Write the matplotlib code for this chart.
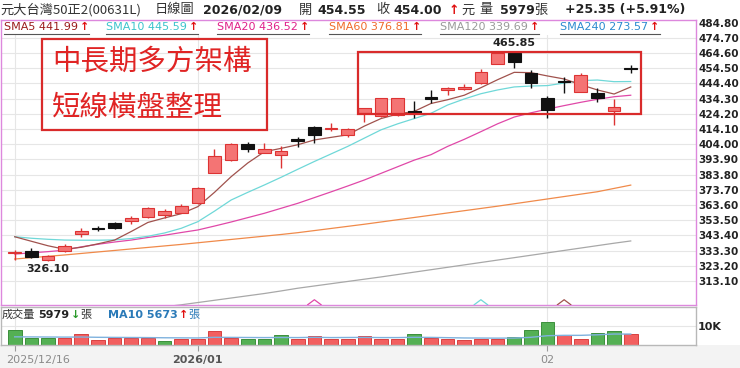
import numpy as np
import matplotlib.pyplot as plt
from matplotlib.patches import Rectangle

W, H = 740, 368
CJK = 'Noto Sans CJK TC'

# ---- data ----
dates = ['2025/12/16', '2025/12/17', '2025/12/18', '2025/12/19', '2025/12/22', '2025/12/23',
         '2025/12/24', '2025/12/26', '2025/12/29', '2025/12/30', '2025/12/31',
         '2026/01/02', '2026/01/05', '2026/01/06', '2026/01/07', '2026/01/08', '2026/01/09',
         '2026/01/12', '2026/01/13', '2026/01/14', '2026/01/15', '2026/01/16',
         '2026/01/19', '2026/01/20', '2026/01/21', '2026/01/22', '2026/01/23',
         '2026/01/26', '2026/01/27', '2026/01/28', '2026/01/29', '2026/01/30',
         '2026/02/02', '2026/02/03', '2026/02/04', '2026/02/05', '2026/02/06', '2026/02/09']

opens = [331.6, 333.0, 326.9, 333.3, 344.4, 348.3, 351.3, 353.0, 355.5, 357.0, 358.2,
         365.2, 385.0, 393.3, 403.8, 398.4, 397.0, 407.0, 415.2, 414.2, 410.1, 425.0,
         422.7, 423.4, 426.2, 434.7, 440.0, 441.0, 444.4, 457.2, 464.8, 451.0,
         434.5, 446.0, 438.8, 438.2, 425.7, 454.55]
highs = [333.8, 334.8, 330.3, 337.6, 348.1, 349.5, 352.1, 356.2, 362.5, 361.0, 364.0,
         375.5, 400.6, 404.8, 405.6, 405.0, 402.8, 409.0, 416.0, 418.2, 414.5, 428.3,
         434.8, 434.8, 432.7, 440.0, 441.8, 443.9, 453.7, 465.0, 465.85, 453.3,
         436.0, 448.8, 451.0, 441.1, 433.8, 456.6]
lows = [326.8, 328.3, 326.1, 332.5, 342.3, 346.6, 347.4, 351.0, 355.2, 355.0, 358.0,
        364.4, 384.8, 393.0, 399.0, 398.0, 388.0, 402.3, 404.6, 412.9, 408.5, 418.9,
        422.3, 423.0, 421.2, 431.6, 436.6, 440.0, 443.9, 457.0, 454.4, 441.1,
        421.2, 437.8, 438.5, 432.2, 416.7, 451.2]
closes = [332.3, 329.3, 329.4, 336.3, 346.4, 347.9, 348.2, 354.7, 361.3, 359.9, 362.9,
          375.1, 396.3, 404.3, 400.8, 400.8, 399.7, 406.5, 410.1, 414.8, 414.1, 427.8,
          434.5, 434.5, 424.8, 434.3, 441.5, 441.6, 451.7, 464.7, 458.8, 444.8,
          426.7, 445.2, 449.9, 434.5, 428.65, 454.0]

sma5 = [342.5, 339.5, 336.5, 334.2, 335.5, 337.8, 340.3, 346.0, 352.0, 355.0, 357.8,
        362.5, 372.0, 382.4, 391.5, 399.0, 401.2, 403.6, 406.8, 408.5, 410.2, 416.0,
        421.0, 424.0, 425.8, 431.0, 433.5, 436.5, 441.5, 446.8, 451.7, 451.5,
        449.3, 447.3, 443.5, 440.0, 437.3, 442.0]
sma10 = [342.5, 341.5, 340.8, 340.3, 340.2, 340.2, 340.4, 341.3, 342.8, 345.0, 348.1,
         352.5, 359.5, 366.9, 372.0, 376.9, 382.0, 387.3, 392.5, 397.5, 402.5, 408.0,
         413.5, 417.5, 421.0, 424.5, 430.0, 434.0, 437.5, 440.0, 442.0, 442.6,
         442.9, 444.6, 446.2, 446.6, 445.5, 445.6]
sma20 = [331.0, 331.8, 332.6, 333.6, 335.8, 337.5, 339.0, 340.3, 342.0, 343.5, 345.3,
         347.0, 349.6, 352.3, 355.2, 358.1, 361.4, 364.7, 368.5, 372.3, 376.2, 380.2,
         384.6, 389.0, 393.4, 397.0, 402.5, 407.2, 412.3, 417.5, 422.0, 424.8,
         427.3, 429.6, 431.8, 433.8, 435.5, 436.5]
sma60 = [327.7, 328.6, 329.5, 330.4, 331.4, 332.4, 333.4, 334.4, 335.4, 336.4, 337.4,
         338.5, 339.6, 340.7, 341.8, 342.9, 344.0, 345.2, 346.6, 348.0, 349.4, 350.8,
         352.3, 353.8, 355.3, 356.8, 358.3, 359.8, 361.3, 362.8, 364.4, 366.0,
         367.6, 369.2, 370.8, 372.4, 374.6, 376.8]
sma120 = [283.5, 284.9, 286.3, 287.7, 289.1, 290.5, 291.9, 293.3, 294.7, 296.0, 297.3,
          298.8, 300.3, 301.8, 303.3, 304.8, 306.5, 308.3, 309.8, 311.3, 312.8, 314.3,
          315.8, 317.4, 319.0, 320.6, 322.2, 323.8, 325.4, 327.0, 328.6, 330.2,
          331.8, 333.4, 335.0, 336.6, 338.2, 339.7]

volumes = [7750, 3580, 3580, 3580, 5600, 2400, 3470, 3470, 3470, 2030, 3200,
           3200, 7200, 3470, 3100, 3100, 5340, 3100, 4800, 3100, 3200, 4650,
           3300, 3300, 5870, 3740, 3040, 2500, 2830, 3200, 4270, 7640,
           11900, 5180, 2830, 6030, 7100, 5979]
vol_up = [0, 0, 0, 1, 1, 1, 1, 1, 1, 0, 1,
          1, 1, 1, 0, 0, 0, 1, 1, 1, 1, 1,
          1, 1, 0, 1, 1, 1, 1, 1, 0, 0,
          0, 1, 1, 0, 0, 1]
vol_ma10 = [4200, 4150, 4100, 4050, 4100, 3950, 3900, 3850, 3800, 3700, 3650,
            3600, 3950, 3900, 3850, 3800, 3850, 3800, 3950, 3800, 3850, 3900,
            3800, 3800, 3950, 3900, 3750, 3600, 3550, 3500, 3550, 3950,
            4800, 5000, 5000, 5300, 5700, 5673]

price_ticks = [313.10, 323.20, 333.30, 343.40, 353.50, 363.60, 373.70, 383.80, 393.90,
               404.00, 414.10, 424.20, 434.30, 444.40, 454.50, 464.60, 474.70, 484.80]

sma_names = ['SMA5', 'SMA10', 'SMA20', 'SMA60', 'SMA120', 'SMA240']
sma_last = [441.99, 445.59, 436.52, 376.81, 339.69, 273.57]
sma_line_colors = ['#a0524d', '#6fd8d8', '#e048a8', '#f08a4a', '#a8a8a8', '#2a8ad0']
sma_text_colors = ['#9b1c1c', '#3cc4cc', '#e0208a', '#f06a2a', '#9a9a9a', '#2a8ad0']

turn_idx = [18, 28, 33]
turn_colors = ['#e048a8', '#6fd8d8', '#a0524d']

# consolidation box (index range, price range)
box_x = (20.64, 37.6)
box_y = (424.3, 464.9)


def fx(px):
    return px / W


def fy(py):
    return 1 - py / H


fig = plt.figure(figsize=(W / 100, H / 100), dpi=100)
fig.patch.set_facecolor('white')
# light strip under the chart
fig.patches.append(Rectangle((0, 0), 1, fy(345), transform=fig.transFigure,
                             facecolor='#f3f3f3', edgecolor='none', zorder=-5))

x = np.arange(len(closes))
xlim = (-0.823, 40.92)
ticks_idx = [0] + [i for i in range(1, len(dates)) if dates[i][:7] != dates[i - 1][:7]]

# ---- price panel ----
ax = fig.add_axes([fx(1), fy(304.7), 695 / W, 285.2 / H])
ax.set_xlim(xlim)
ax.set_ylim(297.36, 486.8)
ax.set_yticks(price_ticks)
ax.set_yticklabels(['%.2f' % v for v in price_ticks])
ax.yaxis.tick_right()
ax.tick_params(axis='y', length=0, pad=1.5, labelsize=7.5, labelcolor='#222')
for lab in ax.get_yticklabels():
    lab.set_fontweight('bold')
ax.set_xticks(ticks_idx)
ax.tick_params(axis='x', length=0, labelbottom=False)
ax.grid(True, color='#e6e6e6', lw=0.8)
ax.set_axisbelow(True)
for s in ax.spines.values():
    s.set_color('#dd88dd')
    s.set_linewidth(1.0)
# keep the legend row clean
ax.add_patch(Rectangle((0, 1 - 15.5 / 285.2), 1, 15.5 / 285.2, transform=ax.transAxes,
                       facecolor='white', edgecolor='none', zorder=1))

o = np.array(opens)
c = np.array(closes)
hi = np.array(highs)
lo = np.array(lows)
up = c >= o
mid = (o + c) / 2
body_h = np.maximum(np.abs(c - o), 1.0)
edge = np.where(up, '#dd3333', '#111111')
face = np.where(up, '#f47474', '#111111')

for sm, col in zip([sma120, sma60, sma20, sma10, sma5], sma_line_colors[4::-1]):
    ax.plot(x, sm, color=col, lw=0.9, zorder=2)

ax.vlines(x, lo, hi, colors=edge, lw=1.0, zorder=3)
ax.bar(x, body_h, bottom=mid - body_h / 2, width=0.76, color=face, edgecolor=edge,
       lw=0.8, zorder=4)

ymin = ax.get_ylim()[0]
for i, col in zip(turn_idx, turn_colors):
    ax.plot([i - 0.4, i, i + 0.4], [ymin, ymin + 3.3, ymin], color=col, lw=0.9, zorder=3)

i_hi = int(np.argmax(hi))
ax.annotate('%.2f' % hi[i_hi], (i_hi, hi[i_hi]), xytext=(0, 2), textcoords='offset points',
            ha='center', va='bottom', fontsize=8, fontweight='bold', color='#222', zorder=6)
i_lo = int(np.argmin(lo))
ax.annotate('%.2f' % lo[i_lo], (i_lo, lo[i_lo]), xytext=(0, -1.5), textcoords='offset points',
            ha='center', va='top', fontsize=8, fontweight='bold', color='#222', zorder=6)

ax.add_patch(Rectangle((box_x[0], box_y[0]), box_x[1] - box_x[0], box_y[1] - box_y[0],
                       fill=False, edgecolor='#d92b2b', lw=1.6, zorder=7))

# ---- volume panel ----
ax2 = fig.add_axes([fx(1), fy(344.7), 695 / W, 37.7 / H])
ax2.set_xlim(xlim)
ax2.set_ylim(0, 20130)
ax2.set_yticks([10000])
ax2.set_yticklabels(['10K'])
ax2.yaxis.tick_right()
ax2.tick_params(axis='y', length=0, pad=1.5, labelsize=8, labelcolor='#222')
ax2.get_yticklabels()[0].set_fontweight('bold')
ax2.set_xticks(ticks_idx)
ax2.tick_params(axis='x', length=4.5, color='#999', width=0.8, labelbottom=False)
ax2.grid(True, color='#e6e6e6', lw=0.8)
ax2.set_axisbelow(True)
for s in ax2.spines.values():
    s.set_color('#b8b8b8')
    s.set_linewidth(1.0)

vup = np.array(vol_up, dtype=bool)
ax2.bar(x, volumes, width=0.82, color=np.where(vup, '#f25f5f', '#54b054'),
        edgecolor=np.where(vup, '#d94040', '#3b8f3b'), lw=0.7, zorder=2)
ax2.plot(x, vol_ma10, color='#7fb2de', lw=1.0, zorder=3)

# date labels
for k, i in enumerate(ticks_idx):
    if k == 0:
        lab = dates[i]
    elif dates[i][:4] != dates[ticks_idx[k - 1]][:4]:
        lab = dates[i][:7]
    else:
        lab = dates[i][5:7]
    bold = k > 0 and lab.startswith('20')
    ax2.annotate(lab, (i - 0.5 if k == 0 else i, 0), xycoords=('data', 'axes fraction'),
                 xytext=(0, -15.5), textcoords='offset pixels', annotation_clip=False,
                 ha='left' if k == 0 else 'center', va='center', fontsize=8,
                 color='#555' if bold else '#8a8a8a', fontweight='bold' if bold else 'normal')

# ---- text overlays ----
r = fig.canvas.get_renderer()


def run(px, py, pieces):
    # place text pieces one after another starting at pixel px
    cur = px
    for s, kw in pieces:
        gap = kw.pop('gap', 0)
        cur += gap
        t = fig.text(fx(cur), fy(py), s, va='center', ha='left', **kw)
        bb = t.get_window_extent(renderer=r)
        cur += bb.width
    return cur


hdr = dict(fontsize=9, fontweight='bold', color='#222')
cj = dict(fontsize=9.5, family=CJK, color='#333')
fig.text(fx(0), fy(10), '元大台灣50正2(00631L)', va='center', **cj)
fig.text(fx(155), fy(10), '日線圖', va='center', **cj)
fig.text(fx(203), fy(10), '2026/02/09', va='center', **hdr)
fig.text(fx(299), fy(10), '開', va='center', **cj)
fig.text(fx(317), fy(10), '%.2f' % opens[-1], va='center', **hdr)
fig.text(fx(376), fy(10), '收', va='center', **cj)
fig.text(fx(393), fy(10), '%.2f' % closes[-1], va='center', **hdr)
fig.text(fx(449), fy(10), '↑', va='center', fontsize=9, fontweight='bold', color='#e01010')
fig.text(fx(461), fy(10), '元', va='center', **cj)
fig.text(fx(479), fy(10), '量', va='center', **cj)
fig.text(fx(500), fy(10), '%d' % volumes[-1], va='center', **hdr)
fig.text(fx(534), fy(10), '張', va='center', **cj)
chg = closes[-1] - closes[-2]
fig.text(fx(565), fy(10), '+%.2f (+%.2f%%)' % (chg, chg / closes[-2] * 100), va='center', **hdr)

legend_x = [4, 106, 217, 329, 440, 560]
for name, val, col, lx in zip(sma_names, sma_last, sma_text_colors, legend_x):
    end = run(lx, 26.5, [('%s %.2f' % (name, val), dict(fontsize=8, color=col)),
                         ('↑', dict(fontsize=8, fontweight='bold', color='#e01010', gap=2))])
    fig.add_artist(plt.Line2D([fx(lx), fx(end)], [fy(33.5), fy(33.5)], color='#555', lw=0.8))

run(2, 314.5, [('成交量', dict(fontsize=8, family=CJK, color='#333')),
               ('%d' % volumes[-1], dict(fontsize=8, fontweight='bold', color='#222', gap=3)),
               ('↓', dict(fontsize=8, fontweight='bold', color='#2a9a2a', gap=1)),
               ('張', dict(fontsize=8, family=CJK, color='#333'))])
run(108, 314.5, [('MA10 %d' % 5673, dict(fontsize=8, fontweight='bold', color='#2a7ab8')),
                 ('↑', dict(fontsize=8, fontweight='bold', color='#e01010', gap=1)),
                 ('張', dict(fontsize=8, family=CJK, color='#2a7ab8'))])

# comment box
fig.patches.append(Rectangle((fx(42), fy(130)), 225 / W, 90.7 / H, transform=fig.transFigure,
                             fill=False, edgecolor='#d92b2b', lw=1.6, zorder=8))
fig.text(fx(52), fy(61.7), '中長期多方架構', va='center', fontsize=20.5, family=CJK,
         color='#e02424', zorder=9)
fig.text(fx(52), fy(108.3), '短線橫盤整理', va='center', fontsize=20.5, family=CJK,
         color='#e02424', zorder=9)

fig.savefig('out.png', dpi=100)
